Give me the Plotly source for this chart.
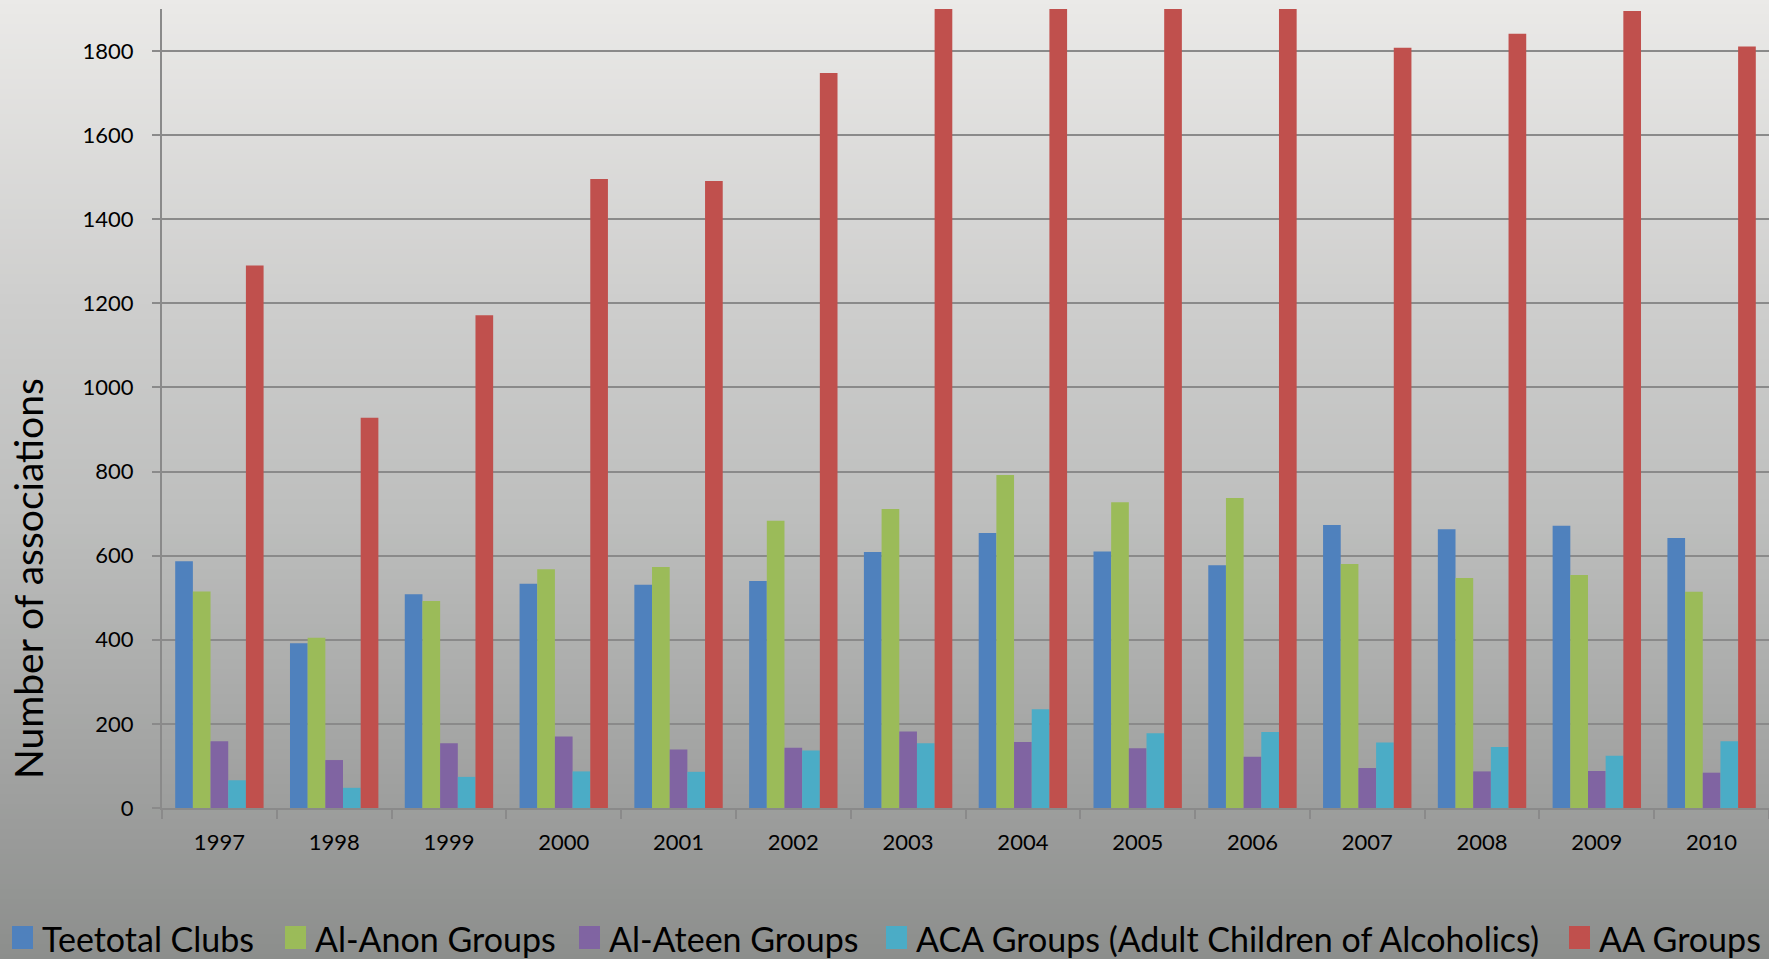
import plotly.graph_objects as go

# ---- data ----
years = ["1997", "1998", "1999", "2000", "2001", "2002", "2003",
         "2004", "2005", "2006", "2007", "2008", "2009", "2010"]
teetotal_clubs = [587, 392, 508, 533, 531, 540, 609, 654, 610, 577, 673, 663, 671, 642]
al_anon_groups = [515, 405, 492, 568, 573, 683, 711, 792, 727, 737, 580, 547, 554, 514]
al_ateen_groups = [159, 114, 154, 170, 139, 143, 182, 157, 142, 122, 95, 87, 88, 84]
aca_groups = [66, 48, 74, 87, 86, 137, 154, 235, 178, 181, 156, 145, 124, 159]
aa_groups = [1290, 928, 1172, 1496, 1491, 1748, 1960, 1990, 1970, 1980, 1808, 1841, 1895, 1811]

series_names = ["Teetotal Clubs", "Al-Anon Groups", "Al-Ateen Groups",
                "ACA Groups (Adult Children of Alcoholics)", "AA Groups"]
series_values = [teetotal_clubs, al_anon_groups, al_ateen_groups, aca_groups, aa_groups]
series_colors = ["#4f81bd", "#9bbb59", "#8064a2", "#4bacc6", "#c0504d"]

W, H = 1769, 959
ML, MR, MT, MB = 162, 0, 9, 151
PW, PH = W - ML - MR, H - MT - MB
FONT = "Lato, 'Open Sans', sans-serif"


def px_x(px):
    return (px - ML) / PW


def px_y(py):
    return (H - MB - py) / PH


fig = go.Figure()
for name, vals, col in zip(series_names, series_values, series_colors):
    fig.add_trace(go.Bar(x=years, y=vals, name=name, marker_color=col,
                         marker_line_width=0, showlegend=False))

# gradient background via thin bands
stops = [(0, (235, 234, 232)), (300, (206, 206, 205)), (520, (189, 190, 189)),
         (808, (157, 158, 157)), (959, (140, 142, 140))]


def grey_at(ypx):
    for (y0, c0), (y1, c1) in zip(stops[:-1], stops[1:]):
        if y0 <= ypx <= y1:
            t = (ypx - y0) / (y1 - y0)
            return tuple(round(a + (b - a) * t) for a, b in zip(c0, c1))
    return stops[-1][1]


shapes = []
step = 5
for ypx in range(0, H, step):
    c = grey_at(ypx + step / 2)
    shapes.append(dict(type="rect", xref="paper", yref="paper",
                       x0=-0.2, x1=1.2, y0=px_y(ypx + step + 1), y1=px_y(ypx - 1),
                       fillcolor="rgb(%d,%d,%d)" % c, line_width=0,
                       layer="below"))

# legend (drawn as keys + text, single row like the original)
legend_key_x = [12, 285, 579, 886, 1569]   # left edge of each key, px
legend_cy = 938
annotations = []
for name, col, kx in zip(series_names, series_colors, legend_key_x):
    shapes.append(dict(type="rect", xref="paper", yref="paper",
                       x0=px_x(kx), x1=px_x(kx + 21),
                       y0=px_y(legend_cy + 11), y1=px_y(legend_cy - 12),
                       fillcolor=col, line_width=0, layer="above"))
    annotations.append(dict(text=name, xref="paper", yref="paper",
                            x=px_x(kx + 28), y=px_y(legend_cy),
                            xanchor="left", yanchor="middle", showarrow=False,
                            font=dict(size=34, family=FONT, color="#000000")))

annotations.append(dict(text="Number of associations", xref="paper", yref="paper",
                        x=px_x(28), y=px_y(579),
                        xanchor="center", yanchor="middle", textangle=-90,
                        showarrow=False, font=dict(size=39, family=FONT)))

fig.update_layout(
    width=W, height=H,
    margin=dict(l=ML, r=MR, t=MT, b=MB, pad=0),
    paper_bgcolor="rgb(140,142,140)",
    plot_bgcolor="rgba(0,0,0,0)",
    barmode="group", bargap=0.23, bargroupgap=0,
    font=dict(family=FONT, color="#000000"),
    shapes=shapes,
    showlegend=False,
    annotations=annotations,
)

fig.update_yaxes(range=[0, 1900], dtick=200, showgrid=True,
                 gridcolor="#8a8a8a", gridwidth=2,
                 showline=True, linecolor="#8a8a8a", linewidth=2,
                 ticks="outside", ticklen=8, tickcolor="#8a8a8a", tickwidth=2,
                 tickfont=dict(size=22, family=FONT), ticklabelstandoff=14,
                 zeroline=False)
fig.update_xaxes(showline=True, linecolor="#8a8a8a", linewidth=2,
                 ticks="outside", ticklen=9, tickcolor="#8a8a8a", tickwidth=2,
                 tickson="boundaries",
                 tickfont=dict(size=22, family=FONT), ticklabelstandoff=14,
                 showgrid=False)

fig.write_html("out.html",
               config={"displayModeBar": False},
               post_script="document.body.style.margin='0';"
                           "document.body.style.overflow='hidden';")
